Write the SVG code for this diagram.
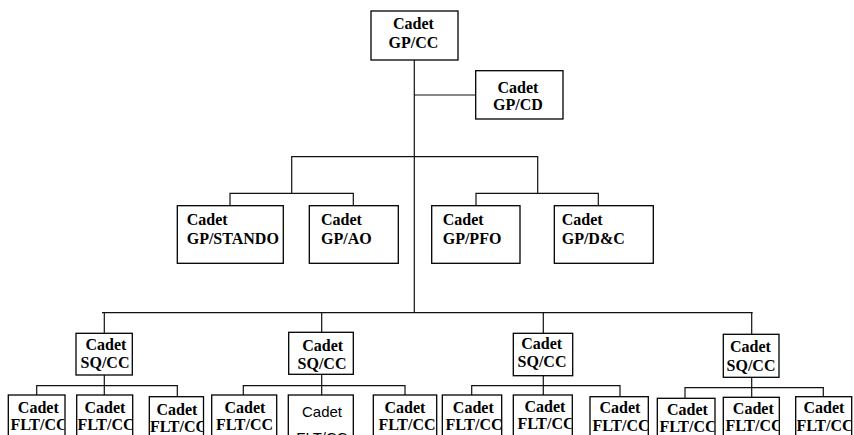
<svg xmlns="http://www.w3.org/2000/svg" width="854" height="435" viewBox="0 0 854 435">
<style>
.box{fill:#fff;stroke:#000;stroke-width:1.3}
.t{font-family:"Liberation Serif","Times New Roman",serif;font-weight:bold;font-size:16px;fill:#000}
.m{text-anchor:middle}
.s{font-family:"Liberation Sans",Arial,sans-serif;font-size:15px;fill:#000;text-anchor:middle}
.ln{stroke:#111;stroke-width:1.2;fill:none}
</style>
<defs>
<clipPath id="c1"><rect x="9" y="396" width="55.4" height="50"/></clipPath>
<clipPath id="c2"><rect x="77.3" y="396" width="54.8" height="50"/></clipPath>
<clipPath id="c3"><rect x="149.9" y="397" width="53" height="50"/></clipPath>
<clipPath id="c4"><rect x="212.3" y="396" width="63.8" height="50"/></clipPath>
<clipPath id="c5"><rect x="288.9" y="396" width="63.8" height="50"/></clipPath>
<clipPath id="c6"><rect x="373.9" y="396" width="62.2" height="50"/></clipPath>
<clipPath id="c7"><rect x="442.9" y="396" width="58.2" height="50"/></clipPath>
<clipPath id="c8"><rect x="513.9" y="396" width="57.8" height="50"/></clipPath>
<clipPath id="c9"><rect x="590.6" y="397" width="57.1" height="50"/></clipPath>
<clipPath id="c10"><rect x="657.9" y="399" width="56.5" height="50"/></clipPath>
<clipPath id="c11"><rect x="723.9" y="398" width="54.8" height="50"/></clipPath>
<clipPath id="c12"><rect x="796.3" y="397" width="54.8" height="50"/></clipPath>
</defs>
<rect width="854" height="435" fill="#fff"/>
<g id="connectors">
<path class="ln" d="M414.3 60V312.7M414.3 95H475.7"/>
<path class="ln" d="M291.7 193.3V156.7H537.7V193.3"/>
<path class="ln" d="M230 205.7V193.3H353.3V205.7M476 205.7V193.3H598.3V205.7"/>
<path class="ln" d="M102 312.7H752.7"/>
<path class="ln" d="M104.3 312.7V333.3M321.7 312.7V332.3M543.3 312.7V333.3M751.7 312.7V334.3"/>
<path class="ln" d="M104.3 375V395M36.7 395V385.7H177.3V396.7"/>
<path class="ln" d="M321.7 374.3V395M243.3 395V385.7H405V395"/>
<path class="ln" d="M543.3 375.7V395M471.7 395V385.7H620V396.7"/>
<path class="ln" d="M751.7 377.3V397.3M685 398.3V387.7H823.3V396.7"/>
</g>
<g id="gp-cc"><rect class="box" x="371" y="11" width="87" height="49"/><text class="t m" x="413.5" y="29.3">Cadet</text><text class="t m" x="413.5" y="48.3">GP/CC</text></g>
<g id="gp-cd"><rect class="box" x="475.7" y="70.7" width="87.3" height="48.3"/><text class="t m" x="518" y="92.7">Cadet</text><text class="t m" x="518" y="110">GP/CD</text></g>
<g id="gp-stando"><rect class="box" x="177.3" y="205.7" width="106" height="57.6"/><text class="t" x="186.7" y="225">Cadet</text><text class="t" x="186.7" y="244">GP/STANDO</text></g>
<g id="gp-ao"><rect class="box" x="309.3" y="205.7" width="89" height="57.6"/><text class="t" x="321" y="225">Cadet</text><text class="t" x="321" y="244">GP/AO</text></g>
<g id="gp-pfo"><rect class="box" x="431.7" y="205.7" width="88.3" height="57.6"/><text class="t" x="442.7" y="225">Cadet</text><text class="t" x="442.7" y="244">GP/PFO</text></g>
<g id="gp-dc"><rect class="box" x="554.3" y="205.7" width="99" height="57.6"/><text class="t" x="561.7" y="225">Cadet</text><text class="t" x="561.7" y="244">GP/D&amp;C</text></g>
<g id="sq1"><rect class="box" x="76" y="333.3" width="56.3" height="41.7"/><text class="t m" x="106" y="350">Cadet</text><text class="t m" x="105" y="368.3">SQ/CC</text></g>
<g id="sq2"><rect class="box" x="288.7" y="332.3" width="64.6" height="42"/><text class="t m" x="322.7" y="351">Cadet</text><text class="t m" x="322" y="369.3">SQ/CC</text></g>
<g id="sq3"><rect class="box" x="513.3" y="333.3" width="59.4" height="42.4"/><text class="t m" x="541.7" y="349.3">Cadet</text><text class="t m" x="542" y="367.3">SQ/CC</text></g>
<g id="sq4"><rect class="box" x="723.3" y="334.3" width="55.7" height="43"/><text class="t m" x="750.5" y="352.3">Cadet</text><text class="t m" x="751" y="371">SQ/CC</text></g>
<g id="flt1"><rect class="box" x="8.3" y="395" width="56.7" height="60"/><g clip-path="url(#c1)"><text class="t m" x="38.3" y="413.3">Cadet</text><text class="t m" x="39" y="430">FLT/CC</text></g></g>
<g id="flt2"><rect class="box" x="76.7" y="395" width="56" height="60"/><g clip-path="url(#c2)"><text class="t m" x="105" y="413">Cadet</text><text class="t m" x="106" y="430">FLT/CC</text></g></g>
<g id="flt3"><rect class="box" x="149.3" y="396.7" width="54.2" height="60"/><g clip-path="url(#c3)"><text class="t m" x="177" y="415">Cadet</text><text class="t m" x="178.5" y="432">FLT/CC</text></g></g>
<g id="flt4"><rect class="box" x="211.7" y="395" width="65" height="60"/><g clip-path="url(#c4)"><text class="t m" x="245" y="413.3">Cadet</text><text class="t m" x="244.5" y="430">FLT/CC</text></g></g>
<g id="flt5"><rect class="box" x="288.3" y="395" width="65" height="60"/><g clip-path="url(#c5)"><text class="s" x="322" y="416.7">Cadet</text><text class="s" x="322" y="442.5">FLT/CC</text></g></g>
<g id="flt6"><rect class="box" x="373.3" y="395" width="63.4" height="60"/><g clip-path="url(#c6)"><text class="t m" x="405" y="413.3">Cadet</text><text class="t m" x="407" y="430">FLT/CC</text></g></g>
<g id="flt7"><rect class="box" x="442.3" y="395" width="59.4" height="60"/><g clip-path="url(#c7)"><text class="t m" x="473.3" y="413.3">Cadet</text><text class="t m" x="474" y="430">FLT/CC</text></g></g>
<g id="flt8"><rect class="box" x="513.3" y="395" width="59" height="60"/><g clip-path="url(#c8)"><text class="t m" x="545" y="411.7">Cadet</text><text class="t m" x="546" y="428.5">FLT/CC</text></g></g>
<g id="flt9"><rect class="box" x="590" y="396.7" width="58.3" height="60"/><g clip-path="url(#c9)"><text class="t m" x="620" y="413.3">Cadet</text><text class="t m" x="621" y="431">FLT/CC</text></g></g>
<g id="flt10"><rect class="box" x="657.3" y="398.3" width="57.7" height="60"/><g clip-path="url(#c10)"><text class="t m" x="687.5" y="415">Cadet</text><text class="t m" x="688" y="432">FLT/CC</text></g></g>
<g id="flt11"><rect class="box" x="723.3" y="397.3" width="56" height="60"/><g clip-path="url(#c11)"><text class="t m" x="753.3" y="414">Cadet</text><text class="t m" x="754" y="431">FLT/CC</text></g></g>
<g id="flt12"><rect class="box" x="795.7" y="396.7" width="56" height="60"/><g clip-path="url(#c12)"><text class="t m" x="824" y="413">Cadet</text><text class="t m" x="825" y="430.5">FLT/CC</text></g></g>
</svg>
